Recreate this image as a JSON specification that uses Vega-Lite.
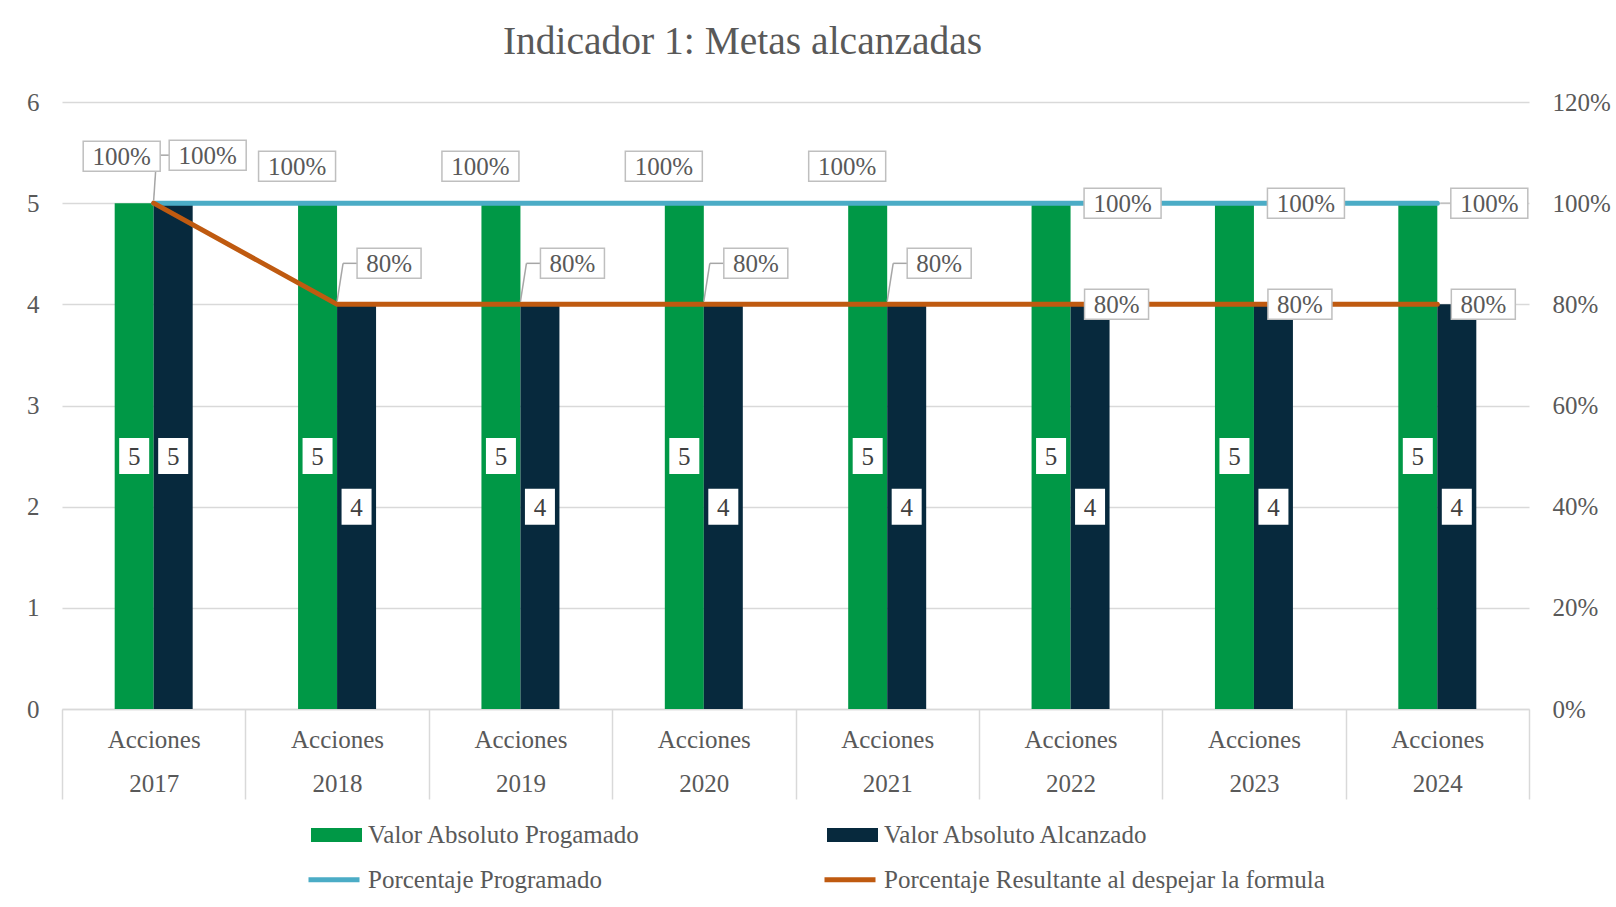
{
  "$schema": "https://vega.github.io/schema/vega-lite/v6.json",
  "width": 1467,
  "height": 607,
  "autosize": {"type": "none"},
  "padding": {"left": 62, "top": 102, "right": 87, "bottom": 198},
  "background": "white",
  "config": {
    "view": {"stroke": null},
    "font": "Liberation Serif",
    "axisX": {
      "labelExpr": "datum.label ? ['Acciones', datum.label] : ''",
      "labelFont": "Liberation Serif",
      "labelFontSize": 25,
      "labelColor": "#595959",
      "labelLineHeight": 44,
      "labelAngle": 0,
      "tickBand": "extent",
      "tickSize": 90,
      "tickColor": "#D9D9D9",
      "tickWidth": 1.5,
      "domainColor": "#D9D9D9",
      "domainWidth": 1.5,
      "labelPadding": -72,
      "grid": false,
      "ticks": true
    }
  },
  "title": {
    "text": "Indicador 1: Metas alcanzadas",
    "font": "Liberation Serif",
    "fontSize": 39.5,
    "fontWeight": "normal",
    "color": "#595959",
    "anchor": "middle",
    "dx": -53,
    "offset": 28
  },
  "datasets": {
    "barras": [
      {"year": "2017", "serie": "Valor Absoluto Progamado", "valor": 5},
      {"year": "2017", "serie": "Valor Absoluto Alcanzado", "valor": 5},
      {"year": "2018", "serie": "Valor Absoluto Progamado", "valor": 5},
      {"year": "2018", "serie": "Valor Absoluto Alcanzado", "valor": 4},
      {"year": "2019", "serie": "Valor Absoluto Progamado", "valor": 5},
      {"year": "2019", "serie": "Valor Absoluto Alcanzado", "valor": 4},
      {"year": "2020", "serie": "Valor Absoluto Progamado", "valor": 5},
      {"year": "2020", "serie": "Valor Absoluto Alcanzado", "valor": 4},
      {"year": "2021", "serie": "Valor Absoluto Progamado", "valor": 5},
      {"year": "2021", "serie": "Valor Absoluto Alcanzado", "valor": 4},
      {"year": "2022", "serie": "Valor Absoluto Progamado", "valor": 5},
      {"year": "2022", "serie": "Valor Absoluto Alcanzado", "valor": 4},
      {"year": "2023", "serie": "Valor Absoluto Progamado", "valor": 5},
      {"year": "2023", "serie": "Valor Absoluto Alcanzado", "valor": 4},
      {"year": "2024", "serie": "Valor Absoluto Progamado", "valor": 5},
      {"year": "2024", "serie": "Valor Absoluto Alcanzado", "valor": 4}
    ],
    "lineas": [
      {"year": "2017", "serie": "Porcentaje Programado", "pct": 1.0},
      {"year": "2018", "serie": "Porcentaje Programado", "pct": 1.0},
      {"year": "2019", "serie": "Porcentaje Programado", "pct": 1.0},
      {"year": "2020", "serie": "Porcentaje Programado", "pct": 1.0},
      {"year": "2021", "serie": "Porcentaje Programado", "pct": 1.0},
      {"year": "2022", "serie": "Porcentaje Programado", "pct": 1.0},
      {"year": "2023", "serie": "Porcentaje Programado", "pct": 1.0},
      {"year": "2024", "serie": "Porcentaje Programado", "pct": 1.0},
      {"year": "2017", "serie": "Porcentaje Resultante al despejar la formula", "pct": 1.0},
      {"year": "2018", "serie": "Porcentaje Resultante al despejar la formula", "pct": 0.8},
      {"year": "2019", "serie": "Porcentaje Resultante al despejar la formula", "pct": 0.8},
      {"year": "2020", "serie": "Porcentaje Resultante al despejar la formula", "pct": 0.8},
      {"year": "2021", "serie": "Porcentaje Resultante al despejar la formula", "pct": 0.8},
      {"year": "2022", "serie": "Porcentaje Resultante al despejar la formula", "pct": 0.8},
      {"year": "2023", "serie": "Porcentaje Resultante al despejar la formula", "pct": 0.8},
      {"year": "2024", "serie": "Porcentaje Resultante al despejar la formula", "pct": 0.8}
    ]
  },
  "resolve": {"scale": {"y": "independent"}},
  "layer": [
    {
      "data": {"name": "barras"},
      "mark": {"type": "bar"},
      "encoding": {
        "x": {
          "field": "year", "type": "nominal", "title": null,
          "scale": {"paddingInner": 0, "paddingOuter": 0}
        },
        "xOffset": {
          "field": "serie", "type": "nominal",
          "scale": {"domain": ["hueco-izq", "Valor Absoluto Progamado", "Valor Absoluto Alcanzado", "hueco-der"], "paddingInner": 0, "paddingOuter": 0.351}
        },
        "y": {
          "field": "valor", "type": "quantitative",
          "scale": {"domain": [0, 6]},
          "axis": {
            "title": null,
            "values": [0, 1, 2, 3, 4, 5, 6],
            "grid": true,
            "gridColor": "#D9D9D9",
            "gridWidth": 1.5,
            "domain": false,
            "ticks": false,
            "labelFont": "Liberation Serif",
            "labelFontSize": 25,
            "labelColor": "#595959",
            "labelPadding": 23
          }
        },
        "fill": {
          "field": "serie", "type": "nominal",
          "scale": {"domain": ["Valor Absoluto Progamado", "Valor Absoluto Alcanzado"], "range": ["#009846", "#07293D"]},
          "legend": {
            "title": null,
            "orient": "none",
            "legendX": 249,
            "legendY": 718,
            "direction": "horizontal",
            "columns": 2,
            "columnPadding": 186,
            "symbolType": "M-1,-0.467H2.4V0.467H-1Z",
            "symbolSize": 900,
            "symbolStrokeWidth": 0,
            "labelOffset": 27,
            "labelFont": "Liberation Serif",
            "labelFontSize": 25,
            "labelColor": "#595959",
            "labelLimit": 800
          }
        }
      }
    },
    {
      "data": {"name": "barras"},
      "encoding": {
        "x": {"field": "year", "type": "nominal", "title": null},
        "xOffset": {"field": "serie", "type": "nominal"},
        "y": {"field": "valor", "type": "quantitative", "scale": {"domain": [0, 12]}, "axis": null}
      },
      "layer": [
        {"mark": {"type": "point", "shape": "M-15,-18H15V18H-15Z", "size": 4, "filled": true, "fill": "white", "strokeWidth": 0, "opacity": 1}},
        {"mark": {"type": "text", "font": "Liberation Serif", "fontSize": 25, "color": "#404040", "baseline": "middle", "align": "center", "dy": 1},
         "encoding": {"text": {"field": "valor", "type": "quantitative"}}}
      ]
    },
    {
      "data": {"name": "lineas"},
      "transform": [{"filter": "datum.serie == 'Porcentaje Programado'"}],
      "mark": {"type": "line", "strokeWidth": 5, "strokeCap": "round"},
      "encoding": {
        "x": {"field": "year", "type": "nominal", "title": null},
        "y": {
          "field": "pct", "type": "quantitative",
          "scale": {"domain": [0, 1.2]},
          "axis": {
            "orient": "right",
            "title": null,
            "values": [0, 0.2, 0.4, 0.6, 0.8, 1.0, 1.2],
            "format": ".0%",
            "grid": false,
            "domain": false,
            "ticks": false,
            "labelFont": "Liberation Serif",
            "labelFontSize": 25,
            "labelColor": "#595959",
            "labelPadding": 23
          }
        },
        "stroke": {
          "field": "serie", "type": "nominal",
          "scale": {"domain": ["Porcentaje Programado", "Porcentaje Resultante al despejar la formula"], "range": ["#4BACC6", "#BF5A10"]},
          "legend": {
            "title": null,
            "orient": "none",
            "legendX": 244,
            "legendY": 760,
            "direction": "horizontal",
            "columns": 2,
            "columnPadding": 212,
            "symbolType": "M-1,0H2.4",
            "symbolSize": 900,
            "symbolStrokeWidth": 5,
            "symbolFillColor": "transparent",
            "labelOffset": 27,
            "labelFont": "Liberation Serif",
            "labelFontSize": 25,
            "labelColor": "#595959",
            "labelLimit": 800
          }
        }
      }
    },
    {
      "data": {"name": "lineas"},
      "transform": [{"filter": "datum.serie != 'Porcentaje Programado'"}],
      "mark": {"type": "line", "strokeWidth": 5, "strokeCap": "round"},
      "encoding": {
        "x": {"field": "year", "type": "nominal", "title": null},
        "y": {"field": "pct", "type": "quantitative", "scale": {"domain": [0, 1.2]}, "axis": null},
        "stroke": {
          "field": "serie", "type": "nominal",
          "legend": {
            "title": null,
            "orient": "none",
            "legendX": 244,
            "legendY": 760,
            "direction": "horizontal",
            "columns": 2,
            "columnPadding": 212,
            "symbolType": "M-1,0H2.4",
            "symbolSize": 900,
            "symbolStrokeWidth": 5,
            "symbolFillColor": "transparent",
            "labelOffset": 27,
            "labelFont": "Liberation Serif",
            "labelFontSize": 25,
            "labelColor": "#595959",
            "labelLimit": 800
          }
        }
      }
    },
    {
      "data": {"name": "lineas"},
      "transform": [{"filter": "datum.serie != 'Porcentaje Programado' && datum.year == '2017'"}],
      "encoding": {
        "x": {"field": "year", "type": "nominal", "title": null},
        "y": {"field": "pct", "type": "quantitative", "scale": {"domain": [0, 1.2]}, "axis": null},
        "x2": {"field": "year"},
        "y2": {"field": "pct"}
      },
      "layer": [
        {"mark": {"type": "rule", "color": "#A6A6A6", "strokeWidth": 1.5, "xOffset": 0, "yOffset": -3, "x2Offset": 3, "y2Offset": -48}},
        {"mark": {"type": "rule", "color": "#A6A6A6", "strokeWidth": 1.5, "xOffset": 3, "yOffset": -48, "x2Offset": 16, "y2Offset": -48}}
      ]
    },
    {
      "data": {"name": "lineas"},
      "transform": [{"filter": "datum.serie != 'Porcentaje Programado' && indexof(['2018','2019','2020','2021'], datum.year) >= 0"}],
      "encoding": {
        "x": {"field": "year", "type": "nominal", "title": null},
        "y": {"field": "pct", "type": "quantitative", "scale": {"domain": [0, 1.2]}, "axis": null},
        "x2": {"field": "year"},
        "y2": {"field": "pct"}
      },
      "layer": [
        {"mark": {"type": "rule", "color": "#A6A6A6", "strokeWidth": 1.5, "xOffset": 0, "yOffset": -3, "x2Offset": 6, "y2Offset": -41}},
        {"mark": {"type": "rule", "color": "#A6A6A6", "strokeWidth": 1.5, "xOffset": 6, "yOffset": -41, "x2Offset": 20, "y2Offset": -41}}
      ]
    },
    {
      "data": {"name": "lineas"},
      "transform": [{"filter": "datum.serie == 'Porcentaje Programado' && datum.year == '2024'"}],
      "encoding": {
        "x": {"field": "year", "type": "nominal", "title": null},
        "y": {"field": "pct", "type": "quantitative", "scale": {"domain": [0, 1.2]}, "axis": null},
        "x2": {"field": "year"},
        "y2": {"field": "pct"}
      },
      "mark": {"type": "rule", "color": "#BFBFBF", "strokeWidth": 1.5, "xOffset": 3, "yOffset": 0, "x2Offset": 14, "y2Offset": 0}
    },
    {
      "data": {"name": "lineas"},
      "transform": [{"filter": "datum.serie == 'Porcentaje Programado' && datum.year == '2017'"}],
      "encoding": {
        "x": {"field": "year", "type": "nominal", "title": null},
        "y": {"field": "pct", "type": "quantitative", "scale": {"domain": [0, 1.2]}, "axis": null}
      },
      "layer": [
        {"mark": {"type": "point", "shape": "M-38.5,-15H38.5V15H-38.5Z", "size": 4, "filled": true, "fill": "white", "stroke": "#BFBFBF", "strokeWidth": 1.5, "opacity": 1, "xOffset": -32, "yOffset": -47}},
        {"mark": {"type": "text", "font": "Liberation Serif", "fontSize": 25, "color": "#595959", "baseline": "middle", "align": "center", "xOffset": -32, "yOffset": -46},
         "encoding": {"text": {"field": "pct", "type": "quantitative", "format": ".0%"}}}
      ]
    },
    {
      "data": {"name": "lineas"},
      "transform": [{"filter": "datum.serie == 'Porcentaje Programado' && indexof(['2018','2019','2020','2021'], datum.year) >= 0"}],
      "encoding": {
        "x": {"field": "year", "type": "nominal", "title": null},
        "y": {"field": "pct", "type": "quantitative", "scale": {"domain": [0, 1.2]}, "axis": null}
      },
      "layer": [
        {"mark": {"type": "point", "shape": "M-38.5,-15H38.5V15H-38.5Z", "size": 4, "filled": true, "fill": "white", "stroke": "#BFBFBF", "strokeWidth": 1.5, "opacity": 1, "xOffset": -40, "yOffset": -37}},
        {"mark": {"type": "text", "font": "Liberation Serif", "fontSize": 25, "color": "#595959", "baseline": "middle", "align": "center", "xOffset": -40, "yOffset": -36},
         "encoding": {"text": {"field": "pct", "type": "quantitative", "format": ".0%"}}}
      ]
    },
    {
      "data": {"name": "lineas"},
      "transform": [{"filter": "datum.serie == 'Porcentaje Programado' && indexof(['2022','2023','2024'], datum.year) >= 0"}],
      "encoding": {
        "x": {"field": "year", "type": "nominal", "title": null},
        "y": {"field": "pct", "type": "quantitative", "scale": {"domain": [0, 1.2]}, "axis": null}
      },
      "layer": [
        {"mark": {"type": "point", "shape": "M-38.5,-15H38.5V15H-38.5Z", "size": 4, "filled": true, "fill": "white", "stroke": "#BFBFBF", "strokeWidth": 1.5, "opacity": 1, "xOffset": 52, "yOffset": 0}},
        {"mark": {"type": "text", "font": "Liberation Serif", "fontSize": 25, "color": "#595959", "baseline": "middle", "align": "center", "xOffset": 52, "yOffset": 1},
         "encoding": {"text": {"field": "pct", "type": "quantitative", "format": ".0%"}}}
      ]
    },
    {
      "data": {"name": "lineas"},
      "transform": [{"filter": "datum.serie != 'Porcentaje Programado' && datum.year == '2017'"}],
      "encoding": {
        "x": {"field": "year", "type": "nominal", "title": null},
        "y": {"field": "pct", "type": "quantitative", "scale": {"domain": [0, 1.2]}, "axis": null}
      },
      "layer": [
        {"mark": {"type": "point", "shape": "M-38.5,-15H38.5V15H-38.5Z", "size": 4, "filled": true, "fill": "white", "stroke": "#BFBFBF", "strokeWidth": 1.5, "opacity": 1, "xOffset": 54, "yOffset": -48}},
        {"mark": {"type": "text", "font": "Liberation Serif", "fontSize": 25, "color": "#595959", "baseline": "middle", "align": "center", "xOffset": 54, "yOffset": -47},
         "encoding": {"text": {"field": "pct", "type": "quantitative", "format": ".0%"}}}
      ]
    },
    {
      "data": {"name": "lineas"},
      "transform": [{"filter": "datum.serie != 'Porcentaje Programado' && indexof(['2018','2019','2020','2021'], datum.year) >= 0"}],
      "encoding": {
        "x": {"field": "year", "type": "nominal", "title": null},
        "y": {"field": "pct", "type": "quantitative", "scale": {"domain": [0, 1.2]}, "axis": null}
      },
      "layer": [
        {"mark": {"type": "point", "shape": "M-32,-15H32V15H-32Z", "size": 4, "filled": true, "fill": "white", "stroke": "#BFBFBF", "strokeWidth": 1.5, "opacity": 1, "xOffset": 52, "yOffset": -41}},
        {"mark": {"type": "text", "font": "Liberation Serif", "fontSize": 25, "color": "#595959", "baseline": "middle", "align": "center", "xOffset": 52, "yOffset": -40},
         "encoding": {"text": {"field": "pct", "type": "quantitative", "format": ".0%"}}}
      ]
    },
    {
      "data": {"name": "lineas"},
      "transform": [{"filter": "datum.serie != 'Porcentaje Programado' && indexof(['2022','2023','2024'], datum.year) >= 0"}],
      "encoding": {
        "x": {"field": "year", "type": "nominal", "title": null},
        "y": {"field": "pct", "type": "quantitative", "scale": {"domain": [0, 1.2]}, "axis": null}
      },
      "layer": [
        {"mark": {"type": "point", "shape": "M-32,-15H32V15H-32Z", "size": 4, "filled": true, "fill": "white", "stroke": "#BFBFBF", "strokeWidth": 1.5, "opacity": 1, "xOffset": 46, "yOffset": 0}},
        {"mark": {"type": "text", "font": "Liberation Serif", "fontSize": 25, "color": "#595959", "baseline": "middle", "align": "center", "xOffset": 46, "yOffset": 1},
         "encoding": {"text": {"field": "pct", "type": "quantitative", "format": ".0%"}}}
      ]
    }
  ]
}
